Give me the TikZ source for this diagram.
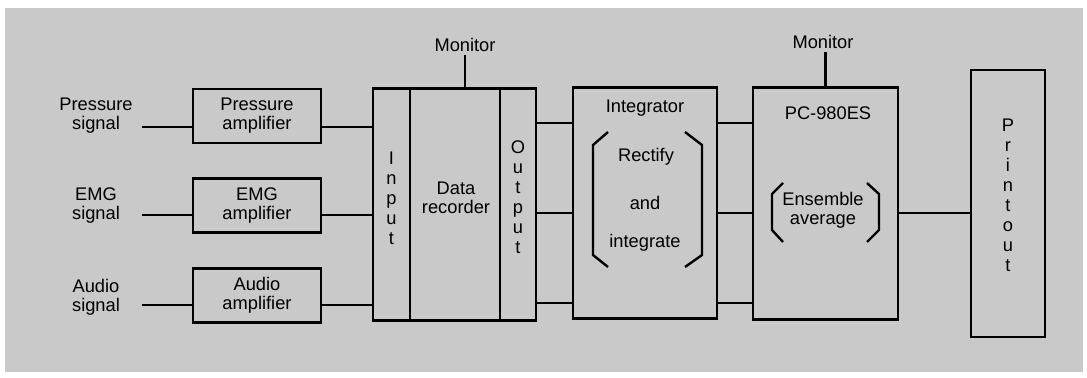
\documentclass[tikz,border=0pt]{standalone}
\usepackage{fontspec}
\setmainfont{Liberation Sans}
\definecolor{paper}{gray}{0.79}

\begin{document}
\begin{tikzpicture}[x=0.025cm,y=-0.025cm]
  % Estilos
  \tikzset{
    block/.style={draw,line width=2pt,inner sep=0pt},
    amp_box/.style={block,minimum width=3.2cm,minimum height=1.35cm},
    tall_box/.style={block,minimum height=5.78cm},
    txt/.style={font=\fontsize{13}{13.5}\selectfont,align=center,inner sep=2pt},
    vtxt/.style={font=\fontsize{13}{14.2}\selectfont,align=center,inner sep=0pt},
    wire/.style={line width=1.9pt},
    brace/.style={line width=1.7pt}
  }

  % Fondo
  \useasboundingbox (0,0) rectangle (1087,377);
  \fill[paper] (5,8) rectangle (1083,372);

  % Senales de entrada y amplificadores
  \node[txt] (psig) at (96,116) {Pressure\\signal};
  \node[txt] (esig) at (96,206) {EMG\\signal};
  \node[txt] (asig) at (96,297) {Audio\\signal};
  \coordinate (pin) at (142,127);
  \coordinate (ein) at (142,215);
  \coordinate (ain) at (142,305);

  \node[amp_box,txt] (pamp) at (257,116) {Pressure\\amplifier};
  \node[amp_box,txt] (eamp) at (257,205.5) {EMG\\amplifier};
  \node[amp_box,txt] (aamp) at (257,295.5) {Audio\\amplifier};

  % Grabador de datos
  \node[tall_box,minimum width=0.925cm] (inp) at (391.5,204.5) {};
  \node[tall_box,minimum width=2.25cm] (rec) at (455,204.5) {};
  \node[tall_box,minimum width=0.9cm] (outp) at (518,204.5) {};
  \node[vtxt] (inptxt) at (391.5,198) {I\\n\\p\\u\\t};
  \node[txt] (rectxt) at (456,198) {Data\\recorder};
  \node[vtxt] (outtxt) at (518,197) {O\\u\\t\\p\\u\\t};
  \node[txt] (mon1) at (465,45) {Monitor};

  % Integrador
  \node[tall_box,minimum width=3.6cm] (integ) at (645,203) {};
  \node[txt] (integtit) at (645,108) {Integrator};
  \node[txt] (rect) at (646,157) {Rectify};
  \node[txt] (andtxt) at (645,203) {and};
  \node[txt] (intg) at (645,243) {integrate};
  \draw[brace] (608,132) -- (593,145) -- (593,255) -- (608,267);
  \draw[brace] (685,132) -- (702,145) -- (702,255) -- (685,267);

  % Computadora
  \node[tall_box,minimum width=3.625cm] (pc) at (825.5,203.5) {};
  \node[txt] (pctit) at (828,113) {PC-980ES};
  \node[txt] (ens) at (823,210) {Ensemble\\average};
  \draw[brace] (783,183) -- (772,194) -- (772,230) -- (783,242);
  \draw[brace] (867,183) -- (879,194) -- (879,230) -- (867,242);
  \node[txt] (mon2) at (823,42) {Monitor};

  % Impresion
  \node[block,minimum width=1.85cm,minimum height=6.675cm] (prt) at (1008,203.5) {};
  \node[vtxt] (prttxt) at (1008,195) {P\\r\\i\\n\\t\\o\\u\\t};

  % Conexiones
  \foreach \s in {p,e,a} {
    \draw[wire] (\s in) -- (\s in -| \s amp.west);
    \draw[wire] (\s amp.east |- \s in) -- (\s in -| inp.west);
  }
  \coordinate (r1) at (0,123);
  \coordinate (r2) at (0,213);
  \coordinate (r3) at (0,303);
  \foreach \r in {r1,r2,r3} {
    \draw[wire] (outp.east |- \r) -- (integ.west |- \r);
    \draw[wire] (integ.east |- \r) -- (pc.west |- \r);
  }
  \draw[wire] (pc.east |- r2) -- (prt.west |- r2);
  \draw[wire] (mon1.south) -- (mon1.south |- rec.north);
  \draw[wire] (mon2.south -| pc.north) -- (pc.north);
\end{tikzpicture}
\end{document}
